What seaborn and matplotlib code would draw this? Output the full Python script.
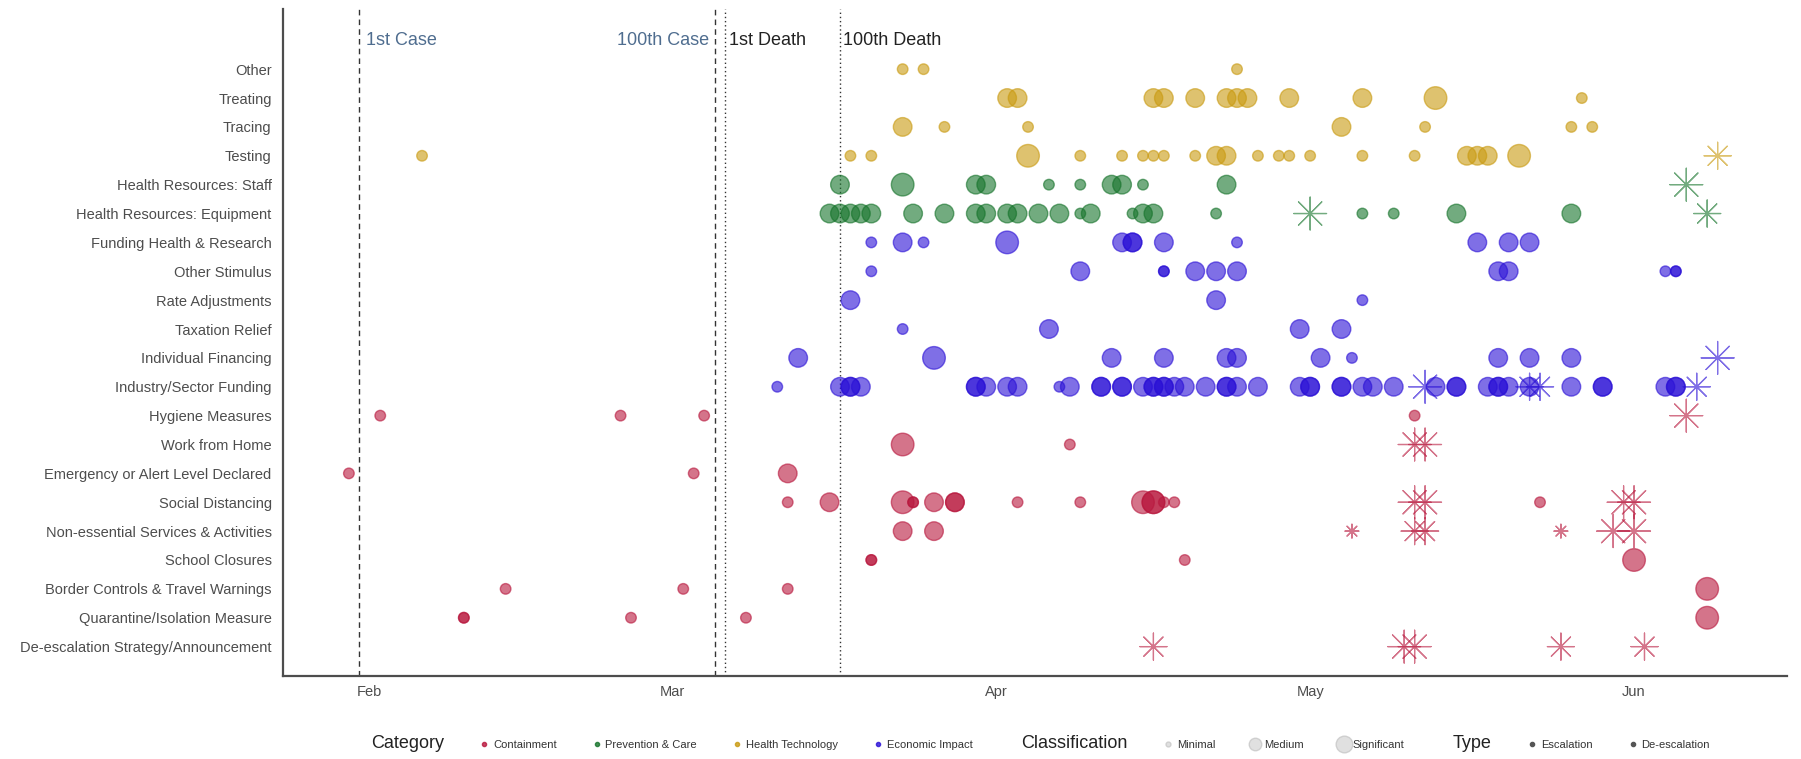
import pandas as pd
import seaborn as sns
import matplotlib.pyplot as plt
import matplotlib.dates as mdates
from matplotlib.lines import Line2D

# measures, top to bottom, and the category each one belongs to
measures = ["Other", "Treating", "Tracing", "Testing",
            "Health Resources: Staff", "Health Resources: Equipment",
            "Funding Health & Research", "Other Stimulus", "Rate Adjustments",
            "Taxation Relief", "Individual Financing", "Industry/Sector Funding",
            "Hygiene Measures", "Work from Home", "Emergency or Alert Level Declared",
            "Social Distancing", "Non-essential Services & Activities", "School Closures",
            "Border Controls & Travel Warnings", "Quarantine/Isolation Measure",
            "De-escalation Strategy/Announcement"]
measure_group = ["Health Technology"] * 4 + ["Prevention & Care"] * 2 + \
                ["Economic Impact"] * 6 + ["Containment"] * 9

groups = ["Containment", "Prevention & Care", "Health Technology", "Economic Impact"]
classes = ["Minimal", "Medium", "Significant"]
types = ["Escalation", "De-escalation"]

# events (2020)
event_names = ["1st Case", "100th Case", "1st Death", "100th Death"]
event_dates = ["2020-01-31", "2020-03-05", "2020-03-06", "2020-03-17"]

# "MM-DD class [d]"  class: m=Minimal, M=Medium, S=Significant ; d = De-escalation
other = ["03-23 m", "03-25 m", "04-24 m"]
treating = ["04-02 M", "04-03 M", "04-16 M", "04-17 M", "04-20 M", "04-23 M", "04-24 M",
            "04-25 M", "04-29 M", "05-06 M", "05-13 S", "05-27 m"]
tracing = ["03-23 M", "03-27 m", "04-04 m", "05-04 M", "05-12 m", "05-26 m", "05-28 m"]
testing = ["02-06 m", "03-18 m", "03-20 m", "04-04 S", "04-09 m", "04-13 m", "04-15 m",
           "04-16 m", "04-17 m", "04-20 m", "04-22 M", "04-23 M", "04-26 m", "04-28 m",
           "04-29 m", "05-01 m", "05-06 m", "05-11 m", "05-16 M", "05-17 M", "05-18 M",
           "05-21 S", "06-09 M d"]
staff = ["03-17 M", "03-23 S", "03-30 M", "03-31 M", "04-06 m", "04-09 m", "04-12 M",
         "04-13 M", "04-15 m", "04-23 M", "06-06 S d"]
equipment = ["03-16 M", "03-17 M", "03-18 M", "03-19 M", "03-20 M", "03-24 M", "03-27 M",
             "03-30 M", "03-31 M", "04-02 M", "04-03 M", "04-05 M", "04-07 M", "04-09 m",
             "04-10 M", "04-14 m", "04-15 M", "04-16 M", "04-22 m", "05-01 S d", "05-06 m",
             "05-09 m", "05-15 M", "05-26 M", "06-08 M d"]
funding = ["03-20 m", "03-23 M", "03-25 m", "04-02 S", "04-13 M", "04-14 M", "04-14 M",
           "04-17 M", "04-24 m", "05-17 M", "05-20 M", "05-22 M"]
other_stimulus = ["03-20 m", "04-09 M", "04-17 m", "04-17 m", "04-20 M", "04-22 M",
                  "04-24 M", "05-19 M", "05-20 M", "06-04 m", "06-05 m", "06-05 m"]
rate = ["03-18 M", "04-22 M", "05-06 m"]
taxation = ["03-23 m", "04-06 M", "04-30 M", "05-04 M"]
individual = ["03-13 M", "03-26 S", "04-12 M", "04-17 M", "04-23 M", "04-24 M", "05-02 M",
              "05-05 m", "05-19 M", "05-22 M", "05-26 M", "06-09 S d"]
industry = ["03-11 m", "03-17 M", "03-18 M", "03-18 M", "03-19 M", "03-30 M", "03-30 M",
            "03-31 M", "04-02 M", "04-03 M", "04-07 m", "04-08 M", "04-11 M", "04-11 M",
            "04-13 M", "04-13 M", "04-15 M", "04-16 M", "04-16 M", "04-17 M", "04-17 M",
            "04-18 M", "04-19 M", "04-21 M", "04-23 M", "04-23 M", "04-24 M", "04-26 M",
            "04-30 M", "05-01 M", "05-01 M", "05-04 M", "05-04 M", "05-06 M", "05-07 M",
            "05-09 M", "05-12 S d", "05-13 M", "05-15 M", "05-15 M", "05-18 M", "05-19 M",
            "05-19 M", "05-20 M", "05-22 M", "05-22 M d", "05-23 M d", "05-26 M", "05-29 M",
            "05-29 M", "06-04 M", "06-05 M", "06-05 M", "06-07 M d"]
hygiene = ["02-02 m", "02-25 m", "03-04 m", "05-11 m", "06-06 S d"]
work_home = ["03-23 S", "04-08 m", "05-11 S d", "05-12 S d"]
emergency = ["01-30 m", "03-03 m", "03-12 M"]
social = ["03-12 m", "03-16 M", "03-23 S", "03-24 m", "03-24 m", "03-26 M", "03-28 M",
          "03-28 M", "04-03 m", "04-09 m", "04-15 S", "04-16 S", "04-16 S", "04-17 m",
          "04-18 m", "05-11 S d", "05-12 S d", "05-23 m", "05-31 S d", "06-01 S d"]
non_essential = ["03-23 M", "03-26 M", "05-05 m d", "05-11 M d", "05-12 M d", "05-25 m d",
                 "05-30 S d", "06-01 S d"]
school = ["03-20 m", "03-20 m", "04-19 m", "06-01 S"]
border = ["02-14 m", "03-02 m", "03-12 m", "06-08 S"]
quarantine = ["02-10 m", "02-10 m", "02-26 m", "03-08 m", "06-08 S"]
de_escalation = ["04-16 M d", "05-10 S d", "05-11 S d", "05-25 M d", "06-02 M d"]

measure_points = [other, treating, tracing, testing, staff, equipment, funding,
                  other_stimulus, rate, taxation, individual, industry, hygiene, work_home,
                  emergency, social, non_essential, school, border, quarantine, de_escalation]

group_colors = {"Containment": "#B8173D", "Prevention & Care": "#15732A",
                "Health Technology": "#C99A10", "Economic Impact": "#2A10D6"}
class_code = {"m": "Minimal", "M": "Medium", "S": "Significant"}

rows = []
n = len(measures)
for i, (m, g, pts) in enumerate(zip(measures, measure_group, measure_points)):
    for p in pts:
        parts = p.split()
        rows.append({"date": pd.Timestamp("2020-" + parts[0]), "measure": m,
                     "ypos": n - 1 - i, "category": g,
                     "classification": class_code[parts[1]],
                     "type": "De-escalation" if len(parts) > 2 else "Escalation"})
df = pd.DataFrame(rows)

sns.set_style("white")
plt.rcParams["font.family"] = ["Liberation Sans", "DejaVu Sans"]

fig = plt.figure(figsize=(18.01, 7.59), dpi=100)
ax = fig.add_axes([0.157, 0.1087, 0.835, 0.8793])

esc = df[df["type"] == "Escalation"]
dee = df[df["type"] == "De-escalation"]

sns.scatterplot(data=esc, x="date", y="ypos", hue="category", hue_order=groups,
                palette=group_colors, size="classification", size_order=classes,
                sizes={"Minimal": 58, "Medium": 180, "Significant": 265},
                marker="o", alpha=0.6, edgecolor="face", linewidth=1.0,
                legend=False, ax=ax, zorder=3)
sns.scatterplot(data=dee, x="date", y="ypos", hue="category", hue_order=groups,
                palette=group_colors, size="classification", size_order=classes,
                sizes={"Minimal": 100, "Medium": 380, "Significant": 560},
                marker=(8, 2, 0), alpha=0.6, linewidth=0.9,
                legend=False, ax=ax, zorder=3)

# event lines and labels
line_styles = [(0, (4, 3)), (0, (4, 3)), (0, (1, 2)), (0, (1, 2))]
text_colors = ["#4F6D8F", "#4F6D8F", "#222222", "#222222"]
text_shift = [0.6, -0.5, 0.35, 0.3]
for name, d, ls, tc, sh in zip(event_names, event_dates, line_styles, text_colors, text_shift):
    t = pd.Timestamp(d)
    ax.axvline(t, color="#333333", lw=1.0, ls=ls, zorder=1)
    ax.text(t + pd.Timedelta(days=sh), n, name, ha="left" if sh > 0 else "right",
            va="center", fontsize=13, color=tc)

ax.set_xlim(pd.Timestamp("2020-02-01") - pd.Timedelta(days=8.33),
            pd.Timestamp("2020-02-01") + pd.Timedelta(days=135.6))
ax.set_ylim(-1.035, n - 1 + 2.08)
ax.xaxis.set_major_locator(mdates.MonthLocator())
ax.xaxis.set_major_formatter(mdates.DateFormatter("%b"))
ax.set_yticks(range(n))
ax.set_yticklabels(measures[::-1])
ax.set_xlabel("")
ax.set_ylabel("")
ax.tick_params(axis="y", length=0, pad=8, labelsize=10.5, labelcolor="#4D4D4D")
ax.tick_params(axis="x", length=0, pad=6, labelsize=10.5, labelcolor="#4D4D4D")
for s in ["top", "right"]:
    ax.spines[s].set_visible(False)
for s in ["left", "bottom"]:
    ax.spines[s].set_color("#4D4D4D")
    ax.spines[s].set_linewidth(1.6)


def blank():
    return Line2D([], [], linestyle="none", marker="")


handles = [blank()]
handles += [Line2D([], [], ls="none", marker="o", ms=3, color=group_colors[g], alpha=0.8)
            for g in groups]
handles += [blank()]
handles += [Line2D([], [], ls="none", marker="o", ms=ms, mfc="#D9D9D9", mec="#C8C8C8",
                   alpha=0.8) for ms in (3.5, 9, 12)]
handles += [blank()]
handles += [Line2D([], [], ls="none", marker="o", ms=3, color="#555555") for _ in types]
labels = ["Category"] + groups + ["Classification"] + classes + ["Type"] + types

leg = fig.legend(handles, labels, loc="center", bbox_to_anchor=(0.574, 0.021),
                 ncol=len(labels), frameon=False, fontsize=8, handlelength=0.8,
                 handletextpad=0.4, columnspacing=3.2)
for t in leg.get_texts():
    if t.get_text() in ("Category", "Classification", "Type"):
        t.set_fontsize(13)
        t.set_color("#222222")
    else:
        t.set_color("#333333")

fig.savefig("out.png", dpi=100)
